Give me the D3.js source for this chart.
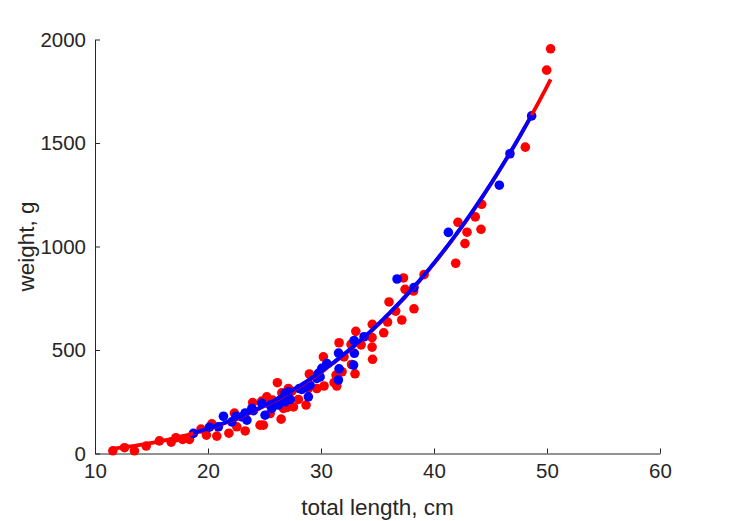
<!DOCTYPE html>
<html><head><meta charset="utf-8">
<script src="https://cdn.jsdelivr.net/npm/d3@7"></script>
<style>body{margin:0;background:#fff}svg{display:block}text{font-family:"Liberation Sans",Arial,sans-serif;fill:#262626}</style>
</head><body>
<svg id="c" width="729" height="521"></svg>
<script>
// Red series: total length (cm), weight (g)
const redLength = [11.58,12.61,13.49,14.53,15.70,16.74,17.16,17.76,18.36,19.38,19.86,20.34,20.78,21.85,22.55,22.34,23.29,23.95,24.61,24.90,25.67,26.14,26.47,26.53,26.67,27.11,27.42,28.0,28.68,26.97,27.56,25.73,25.20,24.76,25.50,28.97,29.63,28.88,30.27,31.40,31.16,30.21,31.60,32.66,33.08,33.55,34.54,34.52,34.52,34.56,32.70,33.01,31.86,31.33,35.55,35.89,36.02,36.61,37.15,37.30,39.12,37.44,38.19,38.23,41.92,42.12,42.74,42.92,43.65,44.16,44.22,48.08,49.97,50.32,32.04,26.53];
const redWeight = [13,28,13,36,61,55,76,68,68,118,89,143,84,98,129,195,109,246,137,137,234,342,166,253,218,314,301,261,234,222,225,258,274,253,193,384,314,314,326,326,343,467,535,527,590,525,624,560,514,455,430,385,395,379,583,635,732,688,645,848,864,793,785,699,919,1117,1014,1069,1143,1083,1204,1480,1852,1955,467,293];
// Blue series
const blueLength = [18.71,20.13,20.92,21.37,22.11,22.49,23.0,23.29,23.44,23.88,24.02,24.76,25.05,25.50,25.65,26.23,26.38,26.82,26.82,26.97,27.11,27.27,28.09,28.30,28.74,28.88,29.03,29.63,29.77,30.07,29.92,30.51,31.55,31.60,31.54,32.93,32.95,32.88,33.81,36.73,38.23,41.27,45.78,46.72,48.64,26.53];
const blueWeight = [97,127,129,180,153,180,177,196,161,218,207,242,185,234,218,234,258,290,250,282,298,261,314,310,322,274,330,363,387,411,370,435,485,409,355,546,484,427,564,843,802,1068,1296,1448,1631,261];
// Power-law fits W = a * L^b
const redFit = [0.01725, 2.95];
const blueFit = [0.01835, 2.934];
const xTicks = [10,20,30,40,50,60];
const yTicks = [0,500,1000,1500,2000];

const svg = d3.select("#c");
const L = 95, R = 660, T = 39.5, B = 453.5;
const x = d3.scaleLinear().domain([10,60]).range([L,R]);
const y = d3.scaleLinear().domain([0,2000]).range([B,T]);

const xa = svg.append("g").attr("transform",`translate(0,${B})`)
  .call(d3.axisBottom(x).tickValues(xTicks).tickFormat(d3.format("d")).tickSizeInner(-5).tickSizeOuter(0).tickPadding(10));
const ya = svg.append("g").attr("transform",`translate(${L},0)`)
  .call(d3.axisLeft(y).tickValues(yTicks).tickFormat(d3.format("d")).tickSizeInner(-5).tickSizeOuter(0).tickPadding(9));
[xa,ya].forEach(a=>{
  a.selectAll("path,line").attr("stroke","#262626").attr("stroke-width",1);
  a.selectAll("text").attr("font-size","20.5px").attr("fill","#262626").style("font-family","'Liberation Sans',Arial,sans-serif");
});

svg.append("text").attr("x",(L+R)/2).attr("y",515).attr("text-anchor","middle")
  .attr("font-size","22.5px").text("total length, cm");
svg.append("text").attr("transform",`translate(34,${(T+B)/2}) rotate(-90)`).attr("text-anchor","middle")
  .attr("font-size","22.5px").text("weight, g");

function dots(xs, ys, col){
  svg.append("g").selectAll("circle").data(xs).join("circle")
    .attr("cx",(d)=>x(d)).attr("cy",(d,i)=>y(ys[i])).attr("r",4.8).attr("fill",col);
}
dots(redLength, redWeight, "#ff0000");
dots(blueLength, blueWeight, "#0000ff");

function fitLine(xs, fit, col){
  const [lo,hi] = d3.extent(xs);
  const pts = d3.range(0,201).map(i=>{const l = lo+(hi-lo)*i/200; return [l, fit[0]*Math.pow(l,fit[1])];});
  svg.append("path").datum(pts).attr("fill","none").attr("stroke",col).attr("stroke-width",3.8)
    .attr("d", d3.line().x(d=>x(d[0])).y(d=>y(d[1])));
}
fitLine(redLength, redFit, "#ff0000");
fitLine(blueLength, blueFit, "#0000ff");
</script>
</body></html>
